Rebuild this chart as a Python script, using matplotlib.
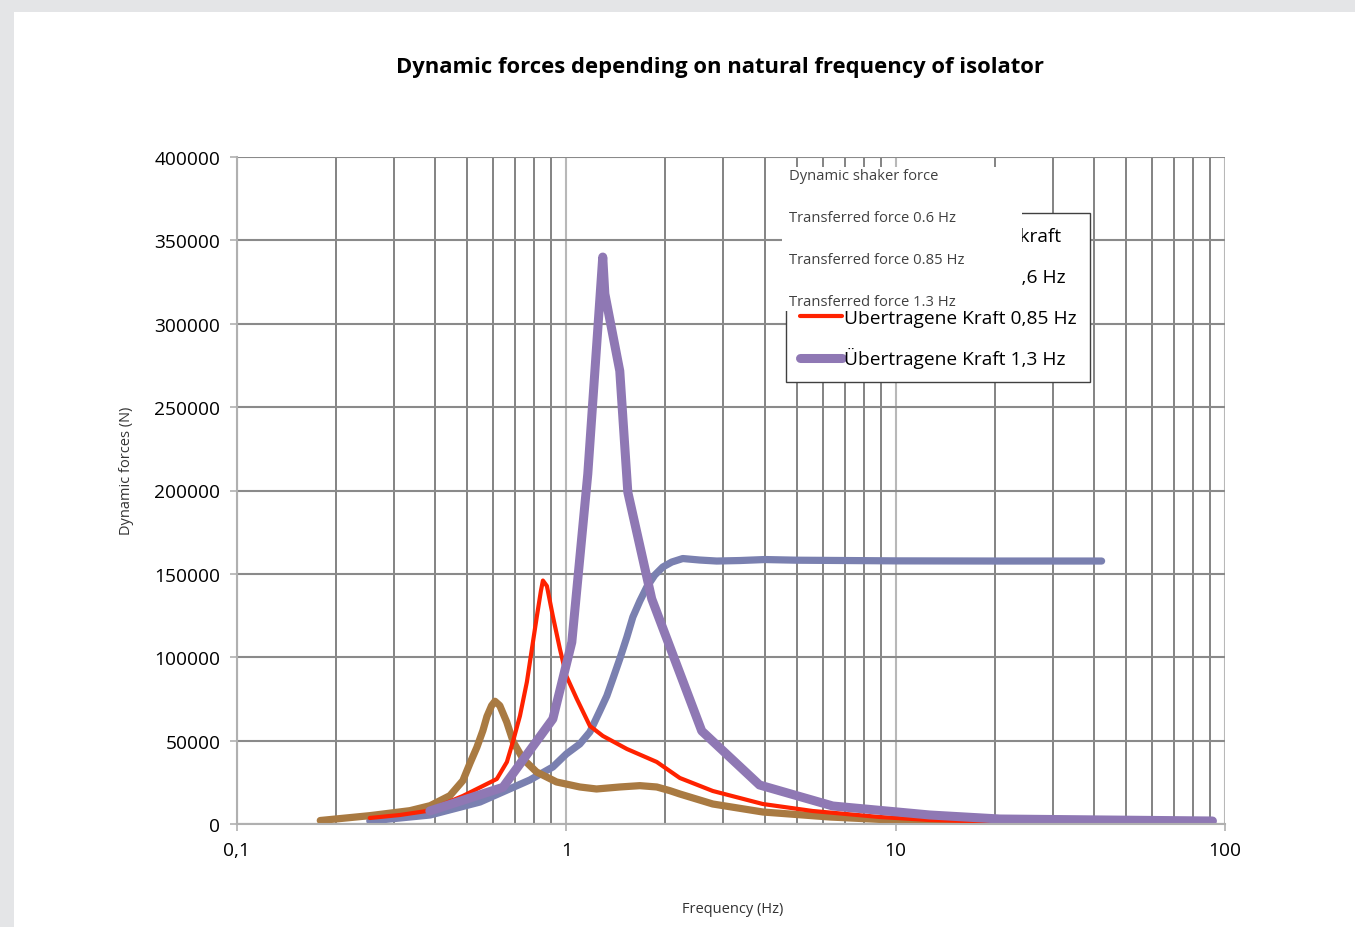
import matplotlib
matplotlib.use("Agg")
import matplotlib.pyplot as plt
from matplotlib.patches import Rectangle
from matplotlib.ticker import FixedLocator, FixedFormatter, NullFormatter
import numpy as np

plt.rcParams['font.family'] = ['Open Sans', 'DejaVu Sans']

# Dynamische Shakerkraft (blau-grau)
f_shaker = [0.253, 0.386, 0.547, 0.775, 0.910, 1.0, 1.099, 1.179, 1.264, 1.327, 1.384,
            1.453, 1.527, 1.592, 1.672, 1.755, 1.856, 1.963, 2.09, 2.257, 2.543, 2.863,
            3.363, 4.004, 5.0, 10.0, 20.0, 42.2]
F_shaker = [1800, 5400, 13200, 26400, 34200, 42000, 48000, 55200, 67800, 76800, 87000,
            99000, 112100, 124100, 133700, 142100, 149300, 154100, 157100, 159200, 158300, 157700,
            158000, 158600, 158200, 157800, 157700, 157700]

# Übertragene Kraft 0,6 Hz
f_06 = [0.179, 0.253, 0.335, 0.386, 0.443, 0.485, 0.510, 0.535, 0.558, 0.574, 0.593,
        0.607, 0.628, 0.659, 0.690, 0.739, 0.812, 0.934, 1.099, 1.235, 1.453, 1.672,
        1.882, 2.062, 2.211, 2.784, 3.948, 6.305, 11.26, 20.7, 91.6]
F_06 = [2100, 5000, 8000, 11000, 17000, 26000, 36500, 46000, 56000, 64500, 71000,
        73600, 71000, 61200, 49200, 39000, 31200, 25200, 22200, 21000, 22200, 23000,
        22200, 20000, 18000, 12000, 7200, 4200, 1800, 900, 300]

# Übertragene Kraft 0,85 Hz
f_085 = [0.253, 0.3125, 0.377, 0.485, 0.615, 0.660, 0.688, 0.723, 0.759, 0.786, 0.814,
         0.837, 0.849, 0.873, 0.910, 0.956, 1.0, 1.076, 1.179, 1.291, 1.527, 1.882,
         2.211, 2.784, 3.948, 5.598, 8.945, 12.68, 20.7, 91.6]
F_085 = [3600, 5400, 7800, 16800, 27000, 37200, 49200, 64800, 85200, 105000, 124700,
         139700, 146000, 142700, 124700, 105000, 88800, 75000, 58800, 52800, 45000, 37200,
         27600, 19800, 12000, 7800, 4200, 2400, 1200, 500]

# Übertragene Kraft 1,3 Hz
f_13 = [0.385, 0.642, 0.91, 1.039, 1.162, 1.29, 1.309, 1.453, 1.537, 1.817, 2.577,
        3.86, 6.44, 12.7, 20.7, 91.6]
F_13 = [7800, 22000, 63000, 109000, 210000, 340000, 318000, 271700, 199000, 135000, 55800,
        23400, 10800, 5400, 3000, 1800]

labels_de = ['Dynamische Shakerkraft', 'Übertragene Kraft 0,6 Hz',
             'Übertragene Kraft 0,85 Hz', 'Übertragene Kraft 1,3 Hz']
labels_en = ['Dynamic shaker force', 'Transferred force 0.6 Hz',
             'Transferred force 0.85 Hz', 'Transferred force 1.3 Hz']

fig = plt.figure(figsize=(13.55, 9.28), dpi=100)
fig.patch.set_facecolor('#e4e5e7')
fig.patches.append(Rectangle((14 / 1355, 0), 1 - 14 / 1355, 1 - 13 / 928,
                             transform=fig.transFigure, facecolor='white',
                             edgecolor='none', zorder=-10))

ax = fig.add_axes([237 / 1355, 1 - 825 / 928, (1225 - 237) / 1355, (825 - 158) / 928])
ax.set_facecolor('white')

ax.plot(f_shaker, F_shaker, color='#7a80b0', lw=5.2, solid_capstyle='round',
        solid_joinstyle='round', label=labels_de[0])
ax.plot(f_06, F_06, color='#a97a42', lw=5.2, solid_capstyle='round',
        solid_joinstyle='round', label=labels_de[1])
ax.plot(f_085, F_085, color='#ff2200', lw=3.0, solid_capstyle='round',
        solid_joinstyle='round', label=labels_de[2])
ax.plot(f_13, F_13, color='#8f78b4', lw=6.5, solid_capstyle='round',
        solid_joinstyle='round', label=labels_de[3])

ax.set_xscale('log')
ax.set_xlim(0.1, 100)
ax.set_ylim(0, 400000)

ax.xaxis.set_major_locator(FixedLocator([0.1, 1, 10, 100]))
ax.xaxis.set_major_formatter(FixedFormatter(['0,1', '1', '10', '100']))
minors = [k * d for d in (0.1, 1, 10) for k in range(2, 10)]
ax.xaxis.set_minor_locator(FixedLocator(minors))
ax.xaxis.set_minor_formatter(NullFormatter())
ax.set_yticks(np.arange(0, 400001, 50000))
ax.set_yticklabels([str(v) for v in range(0, 400001, 50000)])

ax.grid(True, which='major', axis='x', color='#b8b8b8', lw=1.5)
ax.grid(True, which='minor', axis='x', color='#6e6e6e', lw=1.2)
ax.grid(True, which='major', axis='y', color='#8a8a8a', lw=1.5)
ax.set_axisbelow(True)

for s in ('top', 'right'):
    ax.spines[s].set_visible(False)
for s in ('left', 'bottom'):
    ax.spines[s].set_color('#b0b0b0')
    ax.spines[s].set_linewidth(1.5)

ax.tick_params(which='major', length=5, width=1.2, color='#b0b0b0', labelsize=13.8,
               labelcolor='black', pad=7)
ax.tick_params(which='minor', length=0)

fig.text(733 / 1355, 1 - 910 / 928, 'Frequency (Hz)', ha='center', va='center',
         fontsize=10.5, color='#333333')
fig.text(127 / 1355, 1 - 471 / 928, 'Dynamic forces (N)', ha='center', va='center',
         rotation=90, fontsize=10.5, color='#333333')

fig.text(720 / 1355, 1 - 67 / 928, 'Dynamic forces depending on natural frequency of isolator',
         ha='center', va='center', fontsize=15.8, fontweight='bold')

leg = ax.legend(loc='upper left', bbox_to_anchor=(786 / 1355, 1 - 214 / 928),
                bbox_transform=fig.transFigure, borderaxespad=0, fontsize=13.8,
                frameon=True, fancybox=False, framealpha=1, edgecolor='#404040',
                handlelength=2.2, handletextpad=0.1, labelspacing=1.05, borderpad=0.72)
leg.get_frame().set_linewidth(1.0)

# white box carrying the English labels on top of the legend
fig.patches.append(Rectangle((782 / 1355, 1 - 312 / 928), 240 / 1355, 144 / 928,
                             transform=fig.transFigure, facecolor='white',
                             edgecolor='none', zorder=10))
for i, lab in enumerate(labels_en):
    fig.text(789 / 1355, 1 - (177 + 42 * i) / 928, lab, ha='left', va='center',
             fontsize=10.6, color='#404040', zorder=11)

fig.savefig('out.png', dpi=100)
